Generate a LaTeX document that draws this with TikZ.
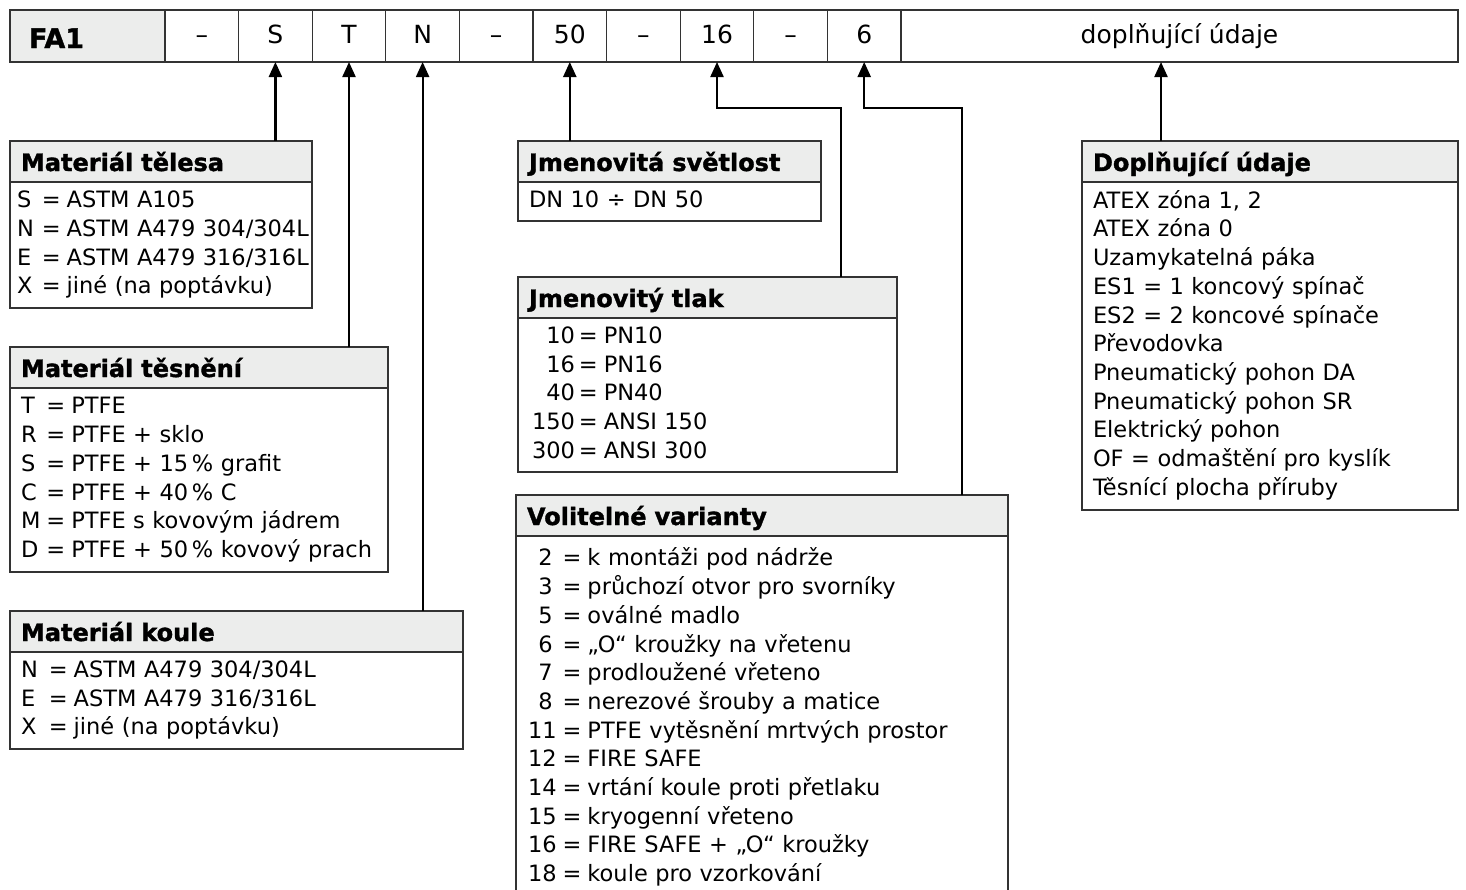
\documentclass[tikz,border=0pt]{standalone}
\usepackage{fontspec}
\setmainfont{DejaVu Sans}
\newfontfamily\headfont{DejaVu Sans}[BoldFeatures={FakeBold=1.4}]
\usetikzlibrary{arrows.meta, positioning}
\definecolor{headgray}{HTML}{ECEDEC}
\definecolor{rule}{HTML}{333333}

\begin{document}
\begin{tikzpicture}[
    x=1pt, y=-1pt,
    every node/.style={outer sep=0pt, font=\fontsize{22.5}{28.7}\selectfont},
    cell/.style={draw=rule, line width=1.3pt, minimum width=73.6pt, minimum height=52pt, inner sep=0pt,
        text height=14pt, text depth=0pt, font=\fontsize{25}{28.7}\selectfont},
    head/.style={draw=rule, fill=headgray, line width=1.3pt, anchor=north west, minimum width=#1, text width=#1-22pt, minimum height=41pt,
        inner xsep=11pt, inner ysep=0pt, text height=19pt, text depth=0pt, align=left, font=\headfont\bfseries\fontsize{24}{28.7}\selectfont},
    body/.style={draw=rule, line width=1.3pt, minimum width=#1, text width=#1-2*\pgfkeysvalueof{/pgf/inner xsep}, inner xsep=11pt, inner ysep=0pt, align=left},
    arrow/.style={-{Triangle[length=15pt, width=13pt]}, line width=2.2pt}
]
    \useasboundingbox (0,0) rectangle (1466,889);
    \clip (0,0) rectangle (1466,889);

    % code strip
    \node[cell, fill=headgray, anchor=north west, minimum width=155pt, text width=117pt, inner xsep=19pt, align=left, text height=24pt,
        font=\headfont\bfseries\fontsize{27}{30}\selectfont] (fa) at (10,10) {FA1};
    \node[cell, right=0pt of fa] (d1) {–};
    \node[cell, right=0pt of d1] (c-s) {S};
    \node[cell, right=0pt of c-s] (c-t) {T};
    \node[cell, right=0pt of c-t] (c-n) {N};
    \node[cell, right=0pt of c-n] (d2) {–};
    \node[cell, right=0pt of d2] (c50) {50};
    \node[cell, right=0pt of c50] (d3) {–};
    \node[cell, right=0pt of d3] (c16) {16};
    \node[cell, right=0pt of c16] (d4) {–};
    \node[cell, right=0pt of d4] (c6) {6};
    \node[cell, right=0pt of c6, minimum width=557pt] (c-dop) {doplňující údaje};

    % left column
    \node[head=302pt] (tel-h) at (10,141) {Materiál tělesa};
    \node[body=302pt, inner xsep=7pt, below=0pt of tel-h, minimum height=126pt] (tel-b) {%
        \begin{tabular}{@{}l@{\hspace{8pt}=\hspace{6pt}}l@{}}
        S & ASTM A105\\
        N & ASTM A479 304/304L\\
        E & ASTM A479 316/316L\\
        X & jiné (na poptávku)
        \end{tabular}};

    \node[head=378pt] (tes-h) at (10,347) {Materiál těsnění};
    \node[body=378pt, below=0pt of tes-h, minimum height=184pt] (tes-b) {%
        \begin{tabular}{@{}l@{\hspace{6pt}=\hspace{6pt}}l@{}}
        T & PTFE\\
        R & PTFE + sklo\\
        S & PTFE + 15\,\% grafit\\
        C & PTFE + 40\,\% C\\
        M & PTFE s kovovým jádrem\\
        D & PTFE + 50\,\% kovový prach
        \end{tabular}};

    \node[head=453pt] (kou-h) at (10,611) {Materiál koule};
    \node[body=453pt, below=0pt of kou-h, minimum height=97pt] (kou-b) {%
        \begin{tabular}{@{}l@{\hspace{11pt}=\hspace{6pt}}l@{}}
        N & ASTM A479 304/304L\\
        E & ASTM A479 316/316L\\
        X & jiné (na poptávku)
        \end{tabular}};

    % middle column
    \node[head=303pt] (dn-h) at (518,141) {Jmenovitá světlost};
    \node[body=303pt, below=0pt of dn-h, minimum height=39pt] (dn-b) {%
        \begin{tabular}{@{}l@{}}
        DN 10 ÷ DN 50
        \end{tabular}};

    \node[head=379pt] (pn-h) at (518,277) {Jmenovitý tlak};
    \node[body=379pt, below=0pt of pn-h, minimum height=154pt] (pn-b) {%
        \begin{tabular}{@{\hspace*{3pt}}r@{\hspace{4pt}=\hspace{6pt}}l@{}}
        10 & PN10\\
        16 & PN16\\
        40 & PN40\\
        150 & ANSI 150\\
        300 & ANSI 300
        \end{tabular}};

    \node[head=492pt] (var-h) at (516,495) {Volitelné varianty};
    \node[body=492pt, below=0pt of var-h, minimum height=364pt] (var-b) {%
        \begin{tabular}{@{\hspace*{1pt}}r@{\hspace{6pt}=\hspace{6pt}}l@{}}
        2\hspace{4pt} & k montáži pod nádrže\\
        3\hspace{4pt} & průchozí otvor pro svorníky\\
        5\hspace{4pt} & oválné madlo\\
        6\hspace{4pt} & „O“ kroužky na vřetenu\\
        7\hspace{4pt} & prodloužené vřeteno\\
        8\hspace{4pt} & nerezové šrouby a matice\\
        11 & PTFE vytěsnění mrtvých prostor\\
        12 & FIRE SAFE\\
        14 & vrtání koule proti přetlaku\\
        15 & kryogenní vřeteno\\
        16 & FIRE SAFE + „O“ kroužky\\
        18 & koule pro vzorkování
        \end{tabular}};

    % right column
    \node[head=376pt] (dop-h) at (1082,141) {Doplňující údaje};
    \node[body=376pt, below=0pt of dop-h, minimum height=328pt] (dop-b) {%
        \begin{tabular}{@{}l@{}}
        ATEX zóna 1, 2\\
        ATEX zóna 0\\
        Uzamykatelná páka\\
        ES1 = 1 koncový spínač\\
        ES2 = 2 koncové spínače\\
        Převodovka\\
        Pneumatický pohon DA\\
        Pneumatický pohon SR\\
        Elektrický pohon\\
        OF = odmaštění pro kyslík\\
        Těsnící plocha příruby
        \end{tabular}};

    % connectors
    \coordinate (k16) at (841,108);
    \coordinate (k6) at (962,108);
    \coordinate (dtip) at (1161,62);

    \draw[arrow] (tel-h.north -| c-s) -- (c-s.south);
    \draw[arrow] (tes-h.north -| c-t) -- (c-t.south);
    \draw[arrow] (kou-h.north -| c-n) -- (c-n.south);
    \draw[arrow] (dn-h.north -| c50) -- (c50.south);
    \draw[arrow] (pn-h.north -| k16) -- (k16) -- (k16 -| c16) -- (c16.south);
    \draw[arrow] (var-h.north -| k6) -- (k6) -- (k6 -| c6) -- (c6.south);
    \draw[arrow] (dop-h.north -| dtip) -- (dtip);
\end{tikzpicture}
\end{document}
